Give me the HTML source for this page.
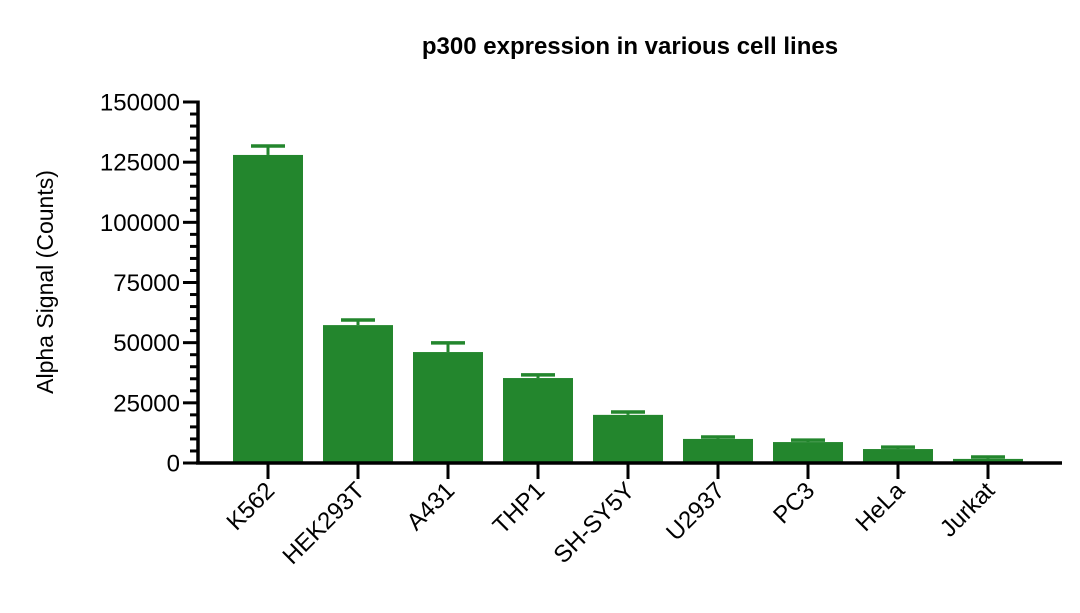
<!DOCTYPE html>
<html><head><meta charset="utf-8"><style>
html,body{margin:0;padding:0;background:#fff;}
svg{display:block;font-family:"Liberation Sans",sans-serif;}
</style></head><body>
<svg id="chart" width="1080" height="613" viewBox="0 0 1080 613">
<text x="630" y="54" text-anchor="middle" font-size="24" font-weight="bold" fill="#000">p300 expression in various cell lines</text>
<text transform="translate(53,282) rotate(-90)" text-anchor="middle" font-size="23" fill="#000">Alpha Signal (Counts)</text>
<g id="bars"></g><g id="axes"></g>
</svg>
<script>
const categories=["K562","HEK293T","A431","THP1","SH-SY5Y","U2937","PC3","HeLa","Jurkat"];
const values=[128000,57300,46100,35300,20000,10000,8700,5800,1700];
const errors=[3700,2100,3800,1300,1200,800,800,800,800];
const yTicks=[0,25000,50000,75000,100000,125000,150000];
const NS="http://www.w3.org/2000/svg";
const gB=document.getElementById('bars'),gA=document.getElementById('axes');
const y0=463,y1=102,yMax=150000;
const y=v=>y0-(v/yMax)*(y0-y1);
const x=i=>268+i*90;
const bw=70,green="#23862d";
function mk(tag,attrs,parent){const e=document.createElementNS(NS,tag);for(const k in attrs)e.setAttribute(k,attrs[k]);parent.appendChild(e);return e;}
categories.forEach((c,i)=>{
  const cx=x(i),top=y(values[i]),et=y(values[i]+errors[i]);
  const eb=mk('line',{x1:cx,x2:cx,y1:top,y2:et,stroke:green,'stroke-width':3},gB);
  
  
  const cap=mk('line',{x1:cx-17,x2:cx+17,y1:et,y2:et,stroke:green,'stroke-width':3.5},gB);
  
  
  const r=mk('rect',{x:cx-bw/2,y:top,width:bw,height:y0-top,fill:green},gB);
  
  
  const t=mk('line',{x1:cx,x2:cx,y1:y0,y2:479,stroke:'#000','stroke-width':3},gA);
  
  
  const lx=cx+8,ly=492;
  const l=mk('text',{x:lx,y:ly,'text-anchor':'end','font-size':24,fill:'#000',transform:`rotate(-45 ${lx} ${ly})`},gA);
  l.textContent=c;
  
  
});
for(let v=0;v<=yMax;v+=5000){
  const major=v%25000===0;
  const t=mk('line',{x1:major?183:190,x2:198,y1:y(v),y2:y(v),stroke:'#000','stroke-width':3},gA);
  
  
}
yTicks.forEach(v=>{
  const l=mk('text',{x:180,y:y(v)+8.5,'text-anchor':'end','font-size':24,fill:'#000'},gA);
  l.textContent=v;
  
  
});
const ya=mk('line',{x1:198,x2:198,y1:y1-1.5,y2:y0+1.5,stroke:'#000','stroke-width':3.5},gA);


const xa=mk('line',{x1:196,x2:1062,y1:y0,y2:y0,stroke:'#000','stroke-width':3.5},gA);


</script>
</body></html>
